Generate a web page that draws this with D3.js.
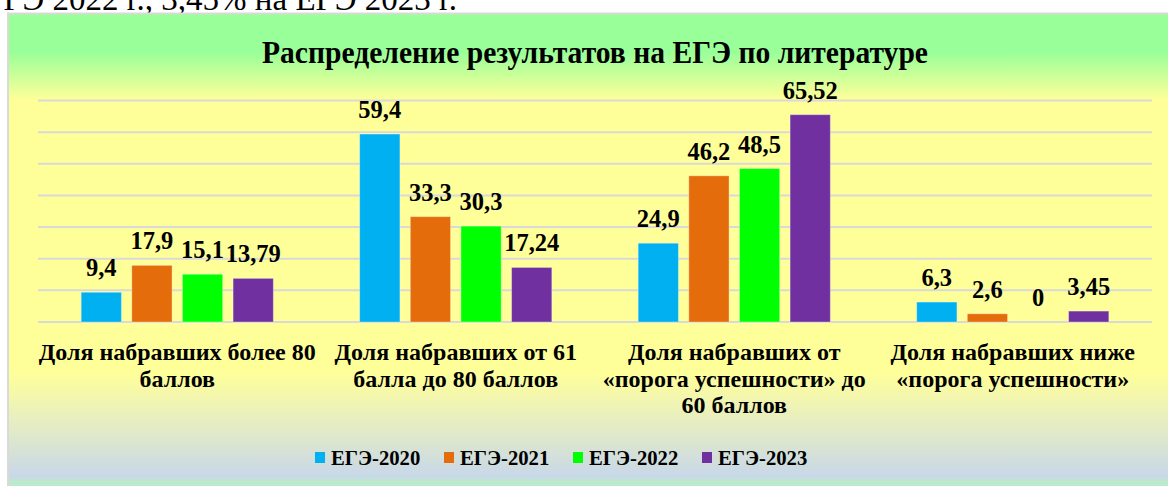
<!DOCTYPE html>
<html>
<head>
<meta charset="utf-8">
<script src="https://cdn.jsdelivr.net/npm/d3@7"></script>
<style>
  body { margin: 0; background: #fff; }
  svg { display: block; }
</style>
</head>
<body>
<svg id="chart"></svg>
<script>
// data
const categories = [
    "Доля набравших более 80 баллов",
    "Доля набравших от 61 балла до 80 баллов",
    "Доля набравших от «порога успешности» до 60 баллов",
    "Доля набравших ниже «порога успешности»"
];
const categoryLines = [
    ["Доля набравших более 80", "баллов"],
    ["Доля набравших от 61", "балла до 80 баллов"],
    ["Доля набравших от", "«порога успешности» до", "60 баллов"],
    ["Доля набравших ниже", "«порога успешности»"]
];
const series = ["ЕГЭ-2020", "ЕГЭ-2021", "ЕГЭ-2022", "ЕГЭ-2023"];
const ege2020 = [9.4, 59.4, 24.9, 6.3];
const ege2021 = [17.9, 33.3, 46.2, 2.6];
const ege2022 = [15.1, 30.3, 48.5, 0];
const ege2023 = [13.79, 17.24, 65.52, 3.45];
const yTicks = [0, 10, 20, 30, 40, 50, 60, 70];

const seriesValues = [ege2020, ege2021, ege2022, ege2023];
const colors = ["#00B0F0", "#E46C0A", "#00FF00", "#7030A0"];
const serif = '"Liberation Serif", serif';

const width = 1168, height = 486;
const margin = {top: 100.5, left: 38, right: 16, bottom: 164};

const svg = d3.select("#chart")
    .attr("width", width)
    .attr("height", height);

// gradient for the chart area
const defs = svg.append("defs");
const grad = defs.append("linearGradient")
    .attr("id", "bg")
    .attr("gradientUnits", "userSpaceOnUse")
    .attr("x1", 0).attr("y1", 13).attr("x2", 0).attr("y2", 486);
[
    [13, "#99FF99"], [52, "#99FF99"], [100, "#FFFF99"], [372, "#FFFF99"],
    [420, "#E8EEC0"], [476, "#C8D8E8"], [479, "#C4DEDC"], [481, "#BDE9CC"], [486, "#BDE9CC"]
].forEach(([yy, c]) => {
    grad.append("stop").attr("offset", ((yy - 13) / (486 - 13))).attr("stop-color", c);
});

// line of the document above the chart (cut off by the crop)
svg.append("text")
    .attr("x", 457)
    .attr("y", 10)
    .attr("text-anchor", "end")
    .style("font-family", serif)
    .style("font-size", "33px")
    .text("ГЭ 2022 г., 3,45% на ЕГЭ 2023 г.");

svg.append("rect")
    .attr("x", 8)
    .attr("y", 13.5)
    .attr("width", 1170)
    .attr("height", 480)
    .attr("fill", "url(#bg)")
    .attr("stroke", "#D9D9D9")
    .attr("stroke-width", 2);

// title
svg.append("text")
    .attr("x", 595)
    .attr("y", 63)
    .attr("text-anchor", "middle")
    .attr("textLength", 666)
    .attr("lengthAdjust", "spacingAndGlyphs")
    .style("font-family", serif)
    .style("font-weight", "bold")
    .style("font-size", "31px")
    .text("Распределение результатов на ЕГЭ по литературе");

const plotW = width - margin.left - margin.right;
const plotBottom = height - margin.bottom;

const x0 = d3.scaleBand()
    .domain(categories)
    .range([margin.left, margin.left + plotW])
    .paddingInner(0.31)
    .paddingOuter(0.155);

const x1 = d3.scaleBand()
    .domain(series)
    .range([0, x0.bandwidth()])
    .paddingInner(0.205);

const y = d3.scaleLinear()
    .domain([0, 70])
    .range([plotBottom, margin.top]);

// gridlines
svg.append("g")
    .selectAll("line")
    .data(yTicks)
    .join("line")
    .attr("x1", margin.left)
    .attr("x2", margin.left + plotW)
    .attr("y1", d => y(d))
    .attr("y2", d => y(d))
    .attr("stroke", "#D9D9D9")
    .attr("stroke-width", 2);

// bars
const groups = svg.append("g")
    .selectAll("g")
    .data(categories)
    .join("g")
    .attr("transform", d => `translate(${x0(d)},0)`);

groups.selectAll("rect")
    .data((d, i) => series.map((s, j) => ({s, j, v: seriesValues[j][i]})))
    .join("rect")
    .attr("x", d => x1(d.s))
    .attr("width", x1.bandwidth())
    .attr("y", d => y(d.v))
    .attr("height", d => y(0) - y(d.v))
    .attr("fill", d => colors[d.j])
    .attr("stroke", "rgba(255,255,255,0.35)")
    .attr("stroke-width", d => d.v > 0 ? 1 : 0);

groups.selectAll("text")
    .data((d, i) => series.map((s, j) => ({s, j, v: seriesValues[j][i]})))
    .join("text")
    .attr("x", d => x1(d.s) + x1.bandwidth() / 2)
    .attr("y", d => y(d.v) - 16)
    .attr("text-anchor", "middle")
    .style("font-family", serif)
    .style("font-weight", "bold")
    .style("font-size", "24.5px")
    .text(d => String(d.v).replace(".", ","));

// category labels
const catLabels = svg.append("g")
    .selectAll("text")
    .data(categories)
    .join("text")
    .attr("x", d => x0(d) + x0.bandwidth() / 2)
    .attr("y", 360)
    .attr("text-anchor", "middle")
    .style("font-family", serif)
    .style("font-weight", "bold")
    .style("font-size", "24px");

catLabels.selectAll("tspan")
    .data((d, i) => categoryLines[i])
    .join("tspan")
    .attr("x", function() { return d3.select(this.parentNode).attr("x"); })
    .attr("dy", (d, i) => i === 0 ? 0 : 26.5)
    .text(d => d);

// legend
const legend = svg.append("g")
    .selectAll("g")
    .data(series)
    .join("g")
    .attr("transform", (d, i) => `translate(${315 + i * 129},452)`);

legend.append("rect")
    .attr("width", 10)
    .attr("height", 11)
    .attr("fill", (d, i) => colors[i]);

legend.append("text")
    .attr("x", 16)
    .attr("y", 13)
    .style("font-family", serif)
    .style("font-weight", "bold")
    .style("font-size", "20.7px")
    .text(d => d);
</script>
</body>
</html>
